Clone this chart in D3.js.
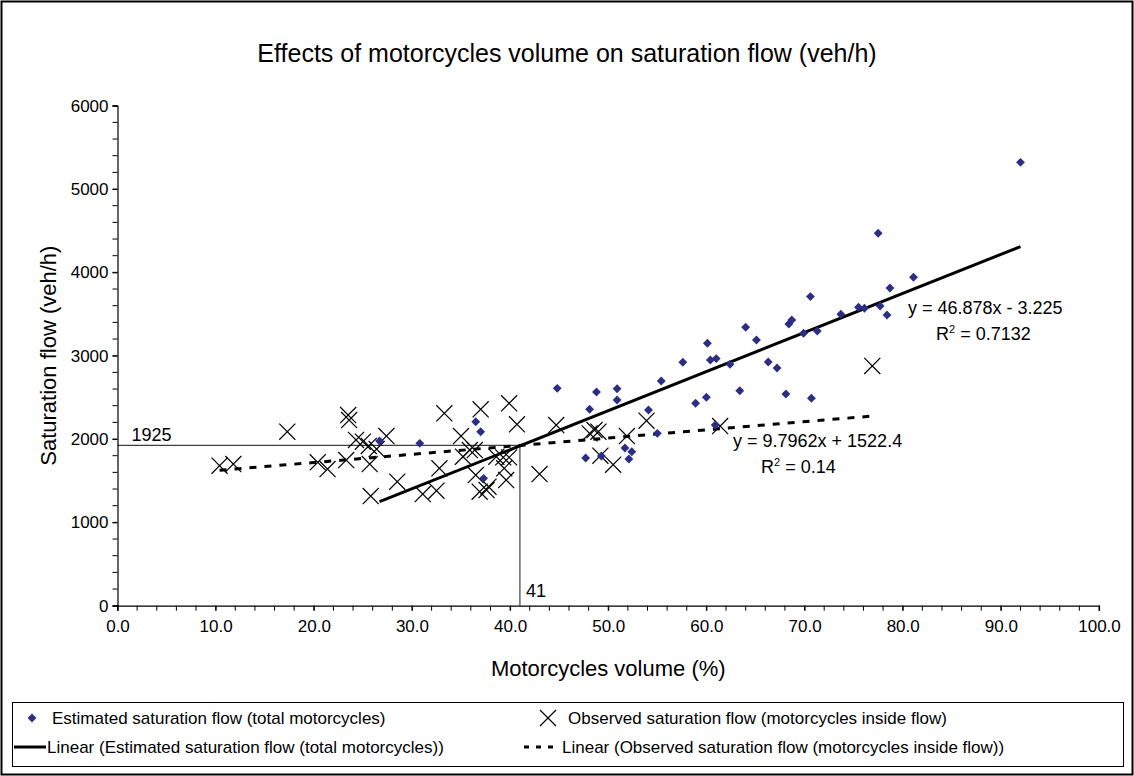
<!DOCTYPE html>
<html>
<head>
<meta charset="utf-8">
<script src="https://cdn.jsdelivr.net/npm/d3@7"></script>
<style>
  body { margin: 0; background: #fff; }
  svg text { font-family: Arial, 'Liberation Sans', sans-serif; fill: #000; }
</style>
</head>
<body>
<div id="chart"></div>
<script>
// estimated saturation flow (total motorcycles)
const estX = [26.7, 30.8, 36.5, 37.0, 37.3, 44.8, 47.7, 48.1, 48.8, 49.3, 50.9, 50.9,
  51.7, 52.1, 52.4, 54.1, 55.0, 55.4, 57.6, 58.9, 60.0, 60.1, 60.4, 60.9, 61.0, 62.4,
  63.4, 64.0, 65.1, 66.3, 67.2, 68.1, 68.4, 68.7, 69.9, 70.6, 70.7, 71.3, 73.7, 75.5,
  76.1, 77.5, 77.7, 78.4, 78.7, 81.1, 92.0];
const estY = [1976, 1948, 2208, 2088, 1528, 2608, 1772, 2357, 2564, 1796, 2604, 2469,
  1892, 1760, 1848, 2349, 2068, 2697, 2921, 2429, 2501, 3149, 2949, 2168, 2965, 2897,
  2580, 3341, 3188, 2925, 2853, 2541, 3380, 3429, 3269, 3709, 2489, 3297, 3497, 3581,
  3569, 4469, 3597, 3489, 3813, 3941, 5320];

// observed saturation flow (motorcycles inside flow)
const obsX = [10.4, 11.8, 17.3, 20.4, 21.4, 23.3, 23.5, 23.6, 24.3, 25.0, 25.6, 25.7,
  25.8, 26.4, 27.4, 28.5, 31.1, 32.5, 32.8, 33.3, 35.0, 35.2, 35.9, 36.4, 36.5, 36.9,
  37.0, 37.6, 37.8, 38.6, 39.3, 39.4, 39.6, 39.9, 39.9, 40.7, 43.0, 44.7, 48.1, 48.6,
  49.0, 49.2, 50.5, 51.9, 53.9, 61.4, 76.9];
const obsY = [1680, 1700, 2088, 1721, 1640, 1748, 2288, 2228, 1989, 1968, 1917, 1700,
  1316, 1880, 2036, 1488, 1340, 1380, 1649, 2309, 2036, 1788, 1868, 1868, 1568, 1368,
  2357, 1388, 1428, 1788, 1780, 1649, 1508, 1780, 2429, 2177, 1580, 2168, 2068, 2108,
  2088, 1800, 1692, 2036, 2220, 2156, 2877];

// trendlines (from the chart labels)
const estFit = { slope: 46.878, icpt: -3.225, eq: 'y = 46.878x - 3.225', r2: '0.7132' };
const obsFit = { slope: 9.7962, icpt: 1522.4, eq: 'y = 9.7962x + 1522.4', r2: '0.14' };

const xTicks = [0, 10, 20, 30, 40, 50, 60, 70, 80, 90, 100];
const yTicks = [0, 1000, 2000, 3000, 4000, 5000, 6000];
const refX = 41;
const refY = 1925;

const W = 1134, H = 776;
const svg = d3.select('#chart').append('svg').attr('width', W).attr('height', H);

svg.append('rect')
  .attr('x', 1.5).attr('y', 1.5).attr('width', W - 3).attr('height', H - 3)
  .attr('fill', '#fff').attr('stroke', '#000').attr('stroke-width', 2);

const x = d3.scaleLinear().domain([0, 100]).range([117.5, 1099]);
const y = d3.scaleLinear().domain([0, 6000]).range([605.7, 105.7]);

svg.append('text')
  .attr('x', 567).attr('y', 62)
  .attr('text-anchor', 'middle')
  .style('font-size', '25px')
  .text('Effects of motorcycles volume on saturation flow (veh/h)');

// reference lines
svg.append('line')
  .attr('x1', x(0)).attr('x2', x(refX)).attr('y1', y(refY)).attr('y2', y(refY))
  .attr('stroke', '#404040').attr('stroke-width', 1.2);
svg.append('line')
  .attr('x1', x(refX)).attr('x2', x(refX)).attr('y1', y(0)).attr('y2', y(refY))
  .attr('stroke', '#404040').attr('stroke-width', 1.2);
svg.append('text').attr('x', x(0) + 14).attr('y', y(refY) - 4)
  .style('font-size', '18px').text(refY);
svg.append('text').attr('x', x(refX) + 6).attr('y', y(0) - 9)
  .style('font-size', '18px').text(refX);

// axes
const yAxis = svg.append('g')
  .attr('transform', `translate(${x(0)},0)`)
  .call(d3.axisLeft(y).tickValues(yTicks).tickSize(5).tickFormat(d3.format('d')));
yAxis.append('g').selectAll('line')
  .data(d3.range(0, 6001, 200))
  .join('line')
  .attr('x1', -5).attr('x2', 0)
  .attr('y1', (d) => y(d)).attr('y2', (d) => y(d))
  .attr('stroke', '#000');

const xAxis = svg.append('g')
  .attr('transform', `translate(0,${y(0)})`)
  .call(d3.axisBottom(x).tickValues(xTicks).tickSize(5).tickFormat(d3.format('.1f')));
xAxis.append('g').selectAll('line')
  .data(d3.range(0, 101, 2))
  .join('line')
  .attr('x1', (d) => x(d)).attr('x2', (d) => x(d))
  .attr('y1', 0).attr('y2', 5)
  .attr('stroke', '#000');

[yAxis, xAxis].forEach((g) => {
  g.select('.domain').attr('stroke', '#000').attr('stroke-width', 1.2);
  g.selectAll('text').style('font-size', '17px')
    .style('font-family', "Arial, 'Liberation Sans', sans-serif");
});
yAxis.selectAll('.tick text').attr('x', -9);
xAxis.selectAll('.tick text').attr('y', 14);

svg.append('text')
  .attr('transform', `translate(56,${(y(0) + y(6000)) / 2}) rotate(-90)`)
  .attr('text-anchor', 'middle')
  .style('font-size', '22px')
  .text('Saturation flow (veh/h)');

svg.append('text')
  .attr('x', (x(0) + x(100)) / 2).attr('y', 676)
  .attr('text-anchor', 'middle')
  .style('font-size', '22px')
  .text('Motorcycles volume (%)');

// trendlines
const fitLine = (fit, xs) => {
  const ext = d3.extent(xs);
  return ext.map((v) => [x(v), y(fit.slope * v + fit.icpt)]);
};
svg.append('path')
  .attr('d', d3.line()(fitLine(obsFit, obsX)))
  .attr('fill', 'none').attr('stroke', '#000').attr('stroke-width', 3)
  .attr('stroke-dasharray', '7,8');
svg.append('path')
  .attr('d', d3.line()(fitLine(estFit, estX)))
  .attr('fill', 'none').attr('stroke', '#000').attr('stroke-width', 3);

// markers
const diamond = d3.symbol().type(d3.symbolDiamond2).size(50);
const cross = d3.symbol().type(d3.symbolX).size(170);
const navy = '#2B2E83';

svg.append('g').selectAll('path')
  .data(obsX.map((v, i) => [v, obsY[i]]))
  .join('path')
  .attr('transform', (d) => `translate(${x(d[0])},${y(d[1])})`)
  .attr('d', cross)
  .attr('fill', 'none').attr('stroke', '#000').attr('stroke-width', 1.2);

svg.append('g').selectAll('path')
  .data(estX.map((v, i) => [v, estY[i]]))
  .join('path')
  .attr('transform', (d) => `translate(${x(d[0])},${y(d[1])})`)
  .attr('d', diamond)
  .attr('fill', navy);

// trendline labels
const eqLabel = (fit, px, py) => {
  svg.append('text').attr('x', px).attr('y', py)
    .style('font-size', '18px').text(fit.eq);
  const r = svg.append('text').attr('x', px + 28).attr('y', py + 26)
    .style('font-size', '18px');
  r.append('tspan').text('R');
  r.append('tspan').attr('dy', -7).style('font-size', '11px').text('2');
  r.append('tspan').attr('dy', 7).text(` = ${fit.r2}`);
};
eqLabel(estFit, 908, 314);
eqLabel(obsFit, 733, 447);

// legend
const lg = svg.append('g');
lg.append('rect')
  .attr('x', 12.5).attr('y', 702.5).attr('width', 1111).attr('height', 64)
  .attr('fill', '#fff').attr('stroke', '#000').attr('stroke-width', 1);
const row1 = 724, row2 = 753;
const lgFont = '17px';
lg.append('path').attr('transform', `translate(32,${row1 - 6})`).attr('d', diamond).attr('fill', navy);
lg.append('text').attr('x', 52).attr('y', row1).style('font-size', lgFont)
  .text('Estimated saturation flow (total motorcycles)');
lg.append('path').attr('transform', `translate(548,${row1 - 6})`).attr('d', cross)
  .attr('fill', 'none').attr('stroke', '#000').attr('stroke-width', 1.2);
lg.append('text').attr('x', 568).attr('y', row1).style('font-size', lgFont)
  .text('Observed saturation flow (motorcycles inside flow)');
lg.append('line').attr('x1', 14).attr('x2', 46).attr('y1', row2 - 6).attr('y2', row2 - 6)
  .attr('stroke', '#000').attr('stroke-width', 3);
lg.append('text').attr('x', 47).attr('y', row2).style('font-size', lgFont)
  .text('Linear (Estimated saturation flow (total motorcycles))');
lg.append('line').attr('x1', 524).attr('x2', 560).attr('y1', row2 - 6).attr('y2', row2 - 6)
  .attr('stroke', '#000').attr('stroke-width', 3).attr('stroke-dasharray', '5,7');
lg.append('text').attr('x', 562).attr('y', row2).style('font-size', lgFont)
  .text('Linear (Observed saturation flow (motorcycles inside flow))');
</script>
</body>
</html>
